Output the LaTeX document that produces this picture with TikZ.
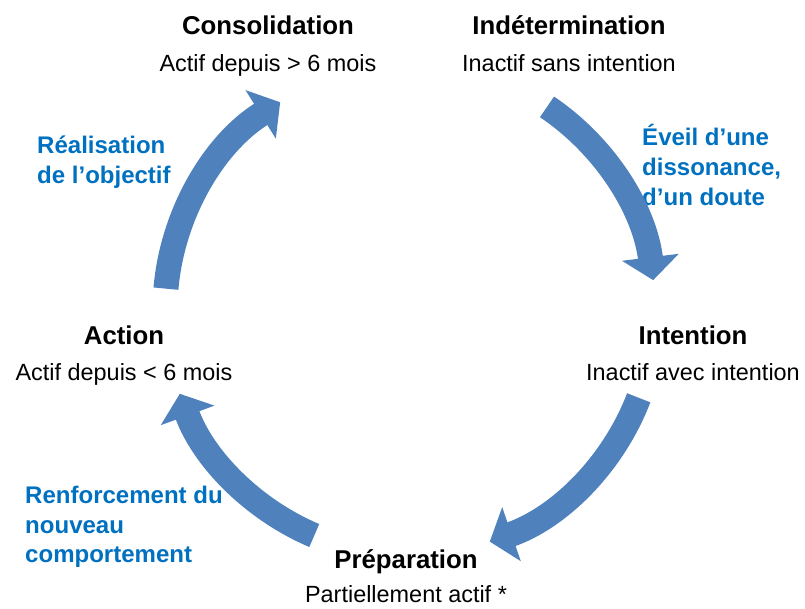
\documentclass[tikz,border=0pt]{standalone}
\usepackage{fontspec}
\setmainfont{Liberation Sans}
\usepackage{tikz}
\usetikzlibrary{arrows.meta,positioning}
\definecolor{arrowblue}{RGB}{79,129,189}
\definecolor{labelblue}{RGB}{0,112,192}

\begin{document}
\begin{tikzpicture}[stage/.style={font=\bfseries\fontsize{22}{26}\selectfont,inner sep=0pt,text height=19.8pt,text depth=4.4pt},
        status/.style={font=\fontsize{20}{24}\selectfont,inner sep=0pt,text height=18pt,text depth=4pt},
        reason/.style={font=\bfseries\fontsize{20.5}{25.2}\selectfont,text=labelblue,align=left,anchor=west,inner sep=0pt},
        turn/.style={line width=0.75cm,arrowblue,-{Triangle[width=1.68cm,length=0.69cm]}}]
        \useasboundingbox (0,0) rectangle (24.15,18.27);
        \coordinate (mid) at (12.3,8.97);
        \node[stage] (cons) at (8.04,17.52) {Consolidation};
        \node[status,below=9pt of cons] (consdesc) {Actif depuis > 6 mois};
        \node[stage] (indet) at (17.07,17.52) {Indétermination};
        \node[status,below=9pt of indet] (indetdesc) {Inactif sans intention};
        \node[stage] (inten) at (20.79,8.22) {Intention};
        \node[status,below=8pt of inten] (intendesc) {Inactif avec intention};
        \node[stage] (prep) at (12.18,1.5) {Préparation};
        \node[status,below=7pt of prep] (prepdesc) {Partiellement actif *};
        \node[stage] (action) at (3.72,8.22) {Action};
        \node[status,below=8pt of action] (actiondesc) {Actif depuis < 6 mois};
        \node[reason] (goal) at (1.11,13.41) {Réalisation\\de l’objectif};
        \node[reason] (doubt) at (19.26,13.32) {Éveil d’une\\dissonance,\\d’un doute};
        \node[reason] (habit) at (0.75,2.46) {Renforcement du\\nouveau\\comportement};
        \draw[turn] (mid) ++(56:7.35) arc[start angle=56,end angle=7,radius=7.35];
        \draw[turn] (mid) ++(-21:7.35) arc[start angle=-21,end angle=-71,radius=7.35];
        \draw[turn] (mid) ++(247:7.35) arc[start angle=247,end angle=200,radius=7.35];
        \draw[turn] (mid) ++(175:7.35) arc[start angle=175,end angle=122,radius=7.35];
    \end{tikzpicture}
\end{document}
